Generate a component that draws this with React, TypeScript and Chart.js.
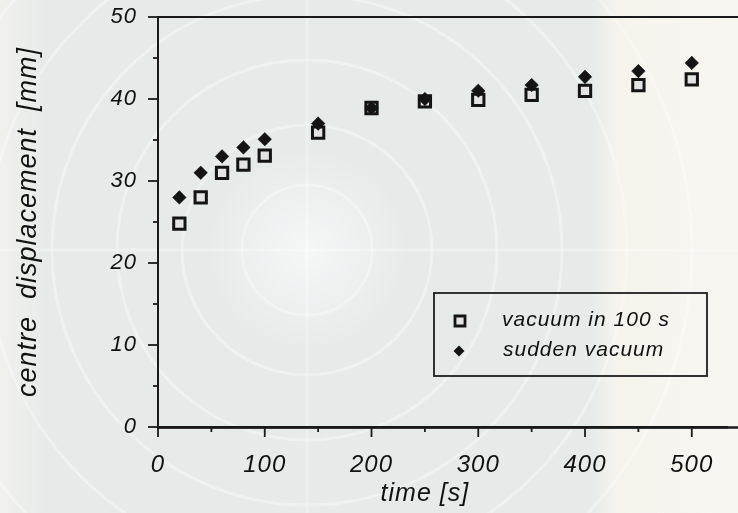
import React, { useEffect, useRef } from 'react';
import { Chart, registerables } from 'chart.js';

Chart.register(...registerables);

// ---- data ----
const timeS = [20, 40, 60, 80, 100, 150, 200, 250, 300, 350, 400, 450, 500];
const vacuumIn100s = [24.8, 28.0, 31.0, 32.0, 33.1, 35.9, 38.9, 39.7, 39.9, 40.5, 41.0, 41.7, 42.4];
const suddenVacuum = [28.0, 31.0, 33.0, 34.1, 35.1, 37.0, 38.9, 40.0, 41.0, 41.7, 42.7, 43.4, 44.4];
const xTickLabels = [0, 100, 200, 300, 400, 500];
const yTickLabels = [0, 10, 20, 30, 40, 50];
const seriesNames = ['vacuum in 100 s', 'sudden vacuum'];
const xTitle = 'time [s]';
const yTitle = 'centre  displacement  [mm]';

const FONT = '"Liberation Sans", Arial, Helvetica, sans-serif';
const INK = '#111111';

const spacingPlugin = {
  id: 'spacing',
  beforeInit(chart: any) { chart.ctx.letterSpacing = '1px'; },
  beforeUpdate(chart: any) { chart.ctx.letterSpacing = '1px'; },
  beforeLayout(chart: any) { chart.ctx.letterSpacing = '1px'; },
};

const bgPlugin = {
  id: 'bg',
  beforeDraw(chart: any) {
    const { ctx, width, height } = chart;
    ctx.save();
    ctx.fillStyle = '#e6ebea';
    ctx.fillRect(0, 0, width, height);
    const g = ctx.createLinearGradient(0, 0, width, 0);
    g.addColorStop(0, 'rgba(246,243,237,0.7)');
    g.addColorStop(0.06, 'rgba(246,243,237,0)');
    g.addColorStop(0.8, 'rgba(246,243,237,0)');
    g.addColorStop(0.835, 'rgba(246,243,237,1)');
    g.addColorStop(1, 'rgba(248,246,241,1)');
    ctx.fillStyle = g;
    ctx.fillRect(0, 0, width, height);
    const cx = 307, cy = 250;
    const rg = ctx.createRadialGradient(cx, cy, 0, cx, cy, 100);
    rg.addColorStop(0, 'rgba(255,255,255,0.6)');
    rg.addColorStop(1, 'rgba(255,255,255,0)');
    ctx.fillStyle = rg;
    ctx.fillRect(0, 0, width, height);
    ctx.strokeStyle = 'rgba(255,255,255,0.3)';
    ctx.lineWidth = 3;
    for (const r of [65, 125, 190, 255, 320, 385]) {
      ctx.beginPath();
      ctx.arc(cx, cy, r, 0, Math.PI * 2);
      ctx.stroke();
    }
    ctx.lineWidth = 3;
    ctx.strokeStyle = 'rgba(255,255,255,0.25)';
    ctx.beginPath();
    ctx.moveTo(cx, 0); ctx.lineTo(cx, height);
    ctx.moveTo(0, cy); ctx.lineTo(width, cy);
    ctx.stroke();
    ctx.restore();
    ctx.letterSpacing = '1px';
  },
};

const axesPlugin = {
  id: 'axesDecor',
  afterDraw(chart: any) {
    const { ctx, chartArea } = chart;
    const xs = chart.scales.x;
    const ys = chart.scales.y;
    ctx.save();
    ctx.strokeStyle = '#1a1a1a';
    ctx.lineWidth = 2;
    // top frame line
    ctx.beginPath();
    ctx.moveTo(chartArea.left, chartArea.top);
    ctx.lineTo(chart.width, chartArea.top);
    ctx.stroke();
    // bottom axis line carried to the canvas edge
    ctx.lineWidth = 2.4;
    ctx.beginPath();
    ctx.moveTo(chartArea.left, chartArea.bottom + 0.5);
    ctx.lineTo(chart.width, chartArea.bottom + 0.5);
    ctx.stroke();
    // y ticks
    ctx.lineWidth = 1.8;
    for (let v = 0; v <= 50; v += 5) {
      const y = ys.getPixelForValue(v);
      const len = yTickLabels.includes(v) ? 10 : 5;
      ctx.beginPath();
      ctx.moveTo(chartArea.left - len, y);
      ctx.lineTo(chartArea.left, y);
      ctx.stroke();
    }
    // x ticks
    for (let v = 0; v <= 500; v += 50) {
      const x = xs.getPixelForValue(v);
      const len = xTickLabels.includes(v) ? 10 : 5;
      ctx.beginPath();
      ctx.moveTo(x, chartArea.bottom);
      ctx.lineTo(x, chartArea.bottom + len);
      ctx.stroke();
    }
    // x title, centred under the 0-500 span
    ctx.fillStyle = INK;
    ctx.font = `italic 25px ${FONT}`;
    ctx.letterSpacing = '1px';
    ctx.textAlign = 'center';
    ctx.textBaseline = 'middle';
    const xc = (xs.getPixelForValue(xTickLabels[0]) + xs.getPixelForValue(xTickLabels[xTickLabels.length - 1])) / 2;
    ctx.fillText(xTitle, xc, 494);

    // legend box
    const bx = 434, by = 293, bw = 273, bh = 83;
    ctx.lineWidth = 1.8;
    ctx.strokeStyle = '#1e1e1e';
    ctx.strokeRect(bx, by, bw, bh);
    ctx.font = `italic 21px ${FONT}`;
    ctx.textAlign = 'left';
    ctx.fillStyle = INK;
    ctx.fillText(seriesNames[0], 502, 320);
    ctx.fillText(seriesNames[1], 503, 350);
    // legend markers
    ctx.fillStyle = '#e4e4e4';
    ctx.strokeStyle = '#141414';
    ctx.lineWidth = 2.8;
    ctx.beginPath();
    ctx.rect(455, 316, 10, 10);
    ctx.fill();
    ctx.stroke();
    ctx.fillStyle = '#141414';
    ctx.beginPath();
    ctx.moveTo(459, 345.5);
    ctx.lineTo(464.5, 351);
    ctx.lineTo(459, 356.5);
    ctx.lineTo(453.5, 351);
    ctx.closePath();
    ctx.fill();
    ctx.restore();
  },
};

export default function App() {
  const ref = useRef<HTMLCanvasElement | null>(null);

  useEffect(() => {
    document.body.style.margin = '0';
    const canvas = ref.current;
    if (!canvas) return;
    const chart = new Chart(canvas, {
      type: 'scatter',
      data: {
        datasets: [
          {
            label: seriesNames[0],
            data: timeS.map((t, i) => ({ x: t, y: vacuumIn100s[i] })),
            pointStyle: 'rect',
            pointRadius: 8,
            pointBorderWidth: 3,
            pointBackgroundColor: '#e4e4e4',
            pointBorderColor: '#141414',
            showLine: false,
            order: 2,
          },
          {
            label: seriesNames[1],
            data: timeS.map((t, i) => ({ x: t, y: suddenVacuum[i] })),
            pointStyle: 'rectRot',
            pointRadius: 6.8,
            pointBorderWidth: 0.5,
            pointBackgroundColor: '#141414',
            pointBorderColor: '#141414',
            showLine: false,
            order: 1,
          },
        ],
      },
      options: {
        animation: false,
        responsive: false,
        devicePixelRatio: 1,
        layout: { padding: { top: 17, left: 0, right: 0, bottom: 0 } },
        plugins: {
          legend: { display: false },
          tooltip: { enabled: false },
        },
        scales: {
          x: {
            type: 'linear',
            min: 0,
            max: 533,
            afterFit: (s: any) => { s.height = 86; s.paddingLeft = 0; s.paddingRight = 0; },
            border: { display: true, color: '#1a1a1a', width: 2.4 },
            grid: { display: true, drawOnChartArea: false, drawTicks: true, tickLength: 10, color: 'rgba(0,0,0,0)' },
            ticks: {
              stepSize: 50,
              includeBounds: false,
              autoSkip: false,
              maxRotation: 0,
              padding: 14,
              color: INK,
              font: { family: FONT, size: 24, style: 'italic' },
              callback: (v: any) => (xTickLabels.includes(Number(v)) ? String(v) : ''),
            },
            title: { display: false },
          },
          y: {
            type: 'linear',
            min: 0,
            max: 50,
            afterFit: (s: any) => { s.width = 158; s.paddingTop = 0; s.paddingBottom = 0; },
            border: { display: true, color: '#1a1a1a', width: 2 },
            grid: { display: true, drawOnChartArea: false, drawTicks: true, tickLength: 10, color: 'rgba(0,0,0,0)' },
            ticks: {
              stepSize: 5,
              autoSkip: false,
              padding: 11,
              color: INK,
              font: { family: FONT, size: 22, style: 'italic' },
              callback: (v: any) => (yTickLabels.includes(Number(v)) ? String(v) : ''),
            },
            title: {
              display: true,
              text: yTitle,
              color: INK,
              font: { family: FONT, size: 27, style: 'italic' },
              padding: { top: 12, bottom: 0 },
            },
          },
        },
      },
      plugins: [spacingPlugin, bgPlugin, axesPlugin],
    } as any);
    return () => chart.destroy();
  }, []);

  return (
    <div style={{ width: 738, height: 513 }}>
      <canvas ref={ref} width={738} height={513} style={{ display: 'block' }} />
    </div>
  );
}
